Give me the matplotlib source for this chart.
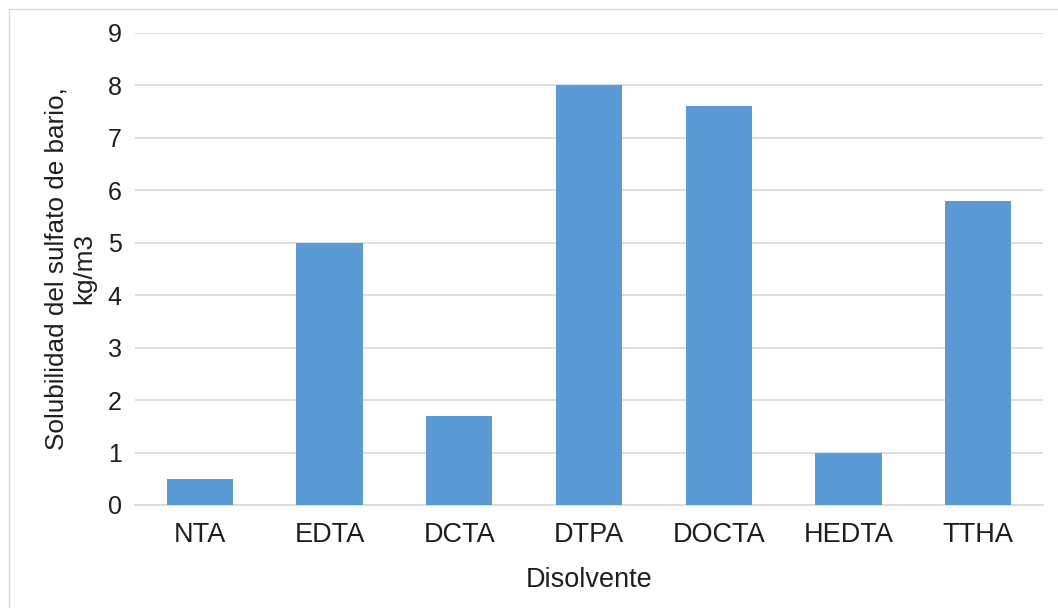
import matplotlib
matplotlib.use("Agg")
import matplotlib.pyplot as plt
from matplotlib.lines import Line2D

# Solubilidad del sulfato de bario por disolvente
disolventes = ["NTA", "EDTA", "DCTA", "DTPA", "DOCTA", "HEDTA", "TTHA"]
solubilidad = [0.5, 5.0, 1.7, 8.0, 7.6, 1.0, 5.8]
ticks_y = list(range(0, 10))

plt.rcParams["font.family"] = ["Liberation Sans", "DejaVu Sans"]
texto = "#1e1e1e"
fs = 19.5

fig = plt.figure(figsize=(10.58, 6.08), dpi=100)
ax = fig.add_axes([135 / 1058, 1 - 505 / 608, 908 / 1058, 472 / 608])

ax.bar(disolventes, solubilidad, width=0.51, color="#5B9BD5", zorder=3)

ax.set_ylim(0, 9)
ax.set_yticks(ticks_y)
ax.set_xlim(-0.5, len(disolventes) - 0.5)
ax.grid(axis="y", color="#d9d9d9", linewidth=1.2, zorder=0)
for s in ["top", "right", "left"]:
    ax.spines[s].set_visible(False)
ax.spines["bottom"].set_color("#d9d9d9")
ax.spines["bottom"].set_linewidth(1.2)
ax.tick_params(axis="both", length=0, colors=texto)
ax.tick_params(axis="y", pad=9.5, labelsize=18)
ax.tick_params(axis="x", pad=12, labelsize=fs)

ax.set_xlabel("Disolvente", fontsize=fs, color=texto, labelpad=14)
ax.set_ylabel("Solubilidad del sulfato de bario,\nkg/m3", fontsize=18.8, color=texto,
              labelpad=8, linespacing=1.2)

# marco superior e izquierdo
borde = "#d9d9d9"
fig.add_artist(Line2D([9 / 1058, 1], [1 - 9 / 608, 1 - 9 / 608], transform=fig.transFigure,
                      color=borde, linewidth=1))
fig.add_artist(Line2D([9 / 1058, 9 / 1058], [0, 1 - 9 / 608], transform=fig.transFigure,
                      color=borde, linewidth=1))

fig.savefig("out.png", dpi=100)
